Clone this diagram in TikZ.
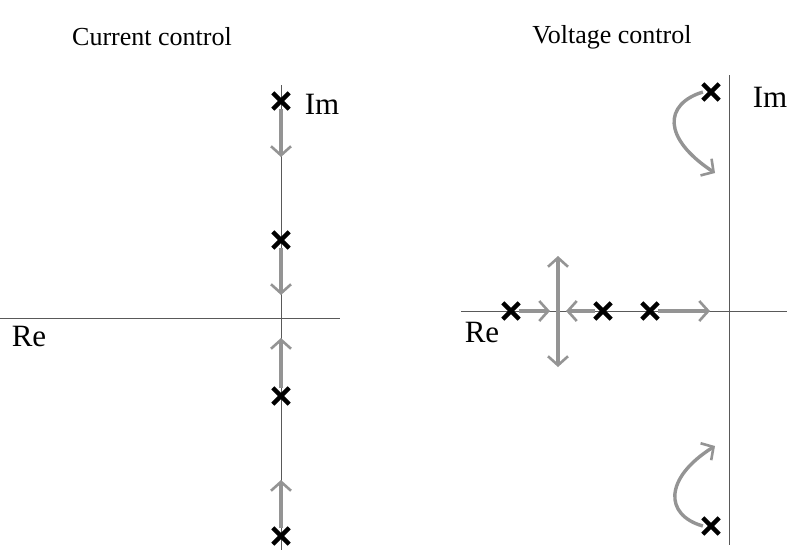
\documentclass[tikz,border=0pt]{standalone}
\usepackage{fontspec}
\setmainfont{Liberation Serif}
\usetikzlibrary{arrows.meta,shapes.misc}
\begin{document}
\begin{tikzpicture}[x=1pt,y=-1pt,
  axis/.style={draw=black!65,line width=1pt},
  pole/.style={cross out,draw=black,line width=4.3pt,minimum size=12pt,inner sep=0pt},
  locus/.style={draw=black!42,line width=3.4pt,-{Straight Barb[length=9pt,width=20pt,line width=2.6pt]}},
  title/.style={font=\fontsize{26}{30}\selectfont},
  lbl/.style={font=\fontsize{31}{34}\selectfont}]
\useasboundingbox (0,0) rectangle (787,550);
% titles
\node[title] (t1) at (152,37) {Current control};
\node[title] (t2) at (612,37) {Voltage control};
% left axes
\coordinate (lvt) at (281,85);
\coordinate (lvb) at (281,550);
\coordinate (lhl) at (0,318);
\coordinate (lhr) at (340,318);
\draw[axis] (lvt) -- (lvb);
\draw[axis] (lhl) -- (lhr);
\node[lbl] (re1) at (29,336) {Re};
\node[lbl] (im1) at (322,104) {Im};
% left poles
\node[pole] (c1) at (281,101) {};
\node[pole] (c2) at (281,240) {};
\node[pole] (c3) at (281,396) {};
\node[pole] (c4) at (281,536) {};
\coordinate (a1) at (281,157);
\coordinate (a2) at (281,295);
\coordinate (a3) at (281,338);
\coordinate (a4) at (281,480);
\draw[locus] (c1.south) -- (a1);
\draw[locus] (c2.south) -- (a2);
\draw[locus] (c3.north) -- (a3);
\draw[locus] (c4.north) -- (a4);
% right axes
\coordinate (rvt) at (729,75);
\coordinate (rvb) at (729,545);
\coordinate (rhl) at (461,311);
\coordinate (rhr) at (787,311);
\draw[axis] (rvt) -- (rvb);
\draw[axis] (rhl) -- (rhr);
\node[lbl] (re2) at (482,332) {Re};
\node[lbl] (im2) at (770,97) {Im};
% right poles
\node[pole] (r1) at (511,311) {};
\node[pole] (r2) at (603,311) {};
\node[pole] (r3) at (650,311) {};
\node[pole] (r4) at (711,92) {};
\node[pole] (r5) at (711,526) {};
\coordinate (b1) at (550,311);
\coordinate (b2) at (566,311);
\coordinate (b3) at (710,311);
\coordinate (bc) at (558,311);
\coordinate (bu) at (558,256);
\coordinate (bd) at (558,367);
\coordinate (b4) at (715,173);
\coordinate (b5) at (715,446);
\draw[locus] (r1.east) -- (b1);
\draw[locus] (r2.west) -- (b2);
\draw[locus] (r3.east) -- (b3);
\draw[locus] (bc) -- (bu);
\draw[locus] (bc) -- (bd);
\draw[locus] (r4.west) .. controls (664,104) and (662,138) .. (b4);
\draw[locus] (r5.west) .. controls (664,515) and (664,478) .. (b5);
\end{tikzpicture}
\end{document}
